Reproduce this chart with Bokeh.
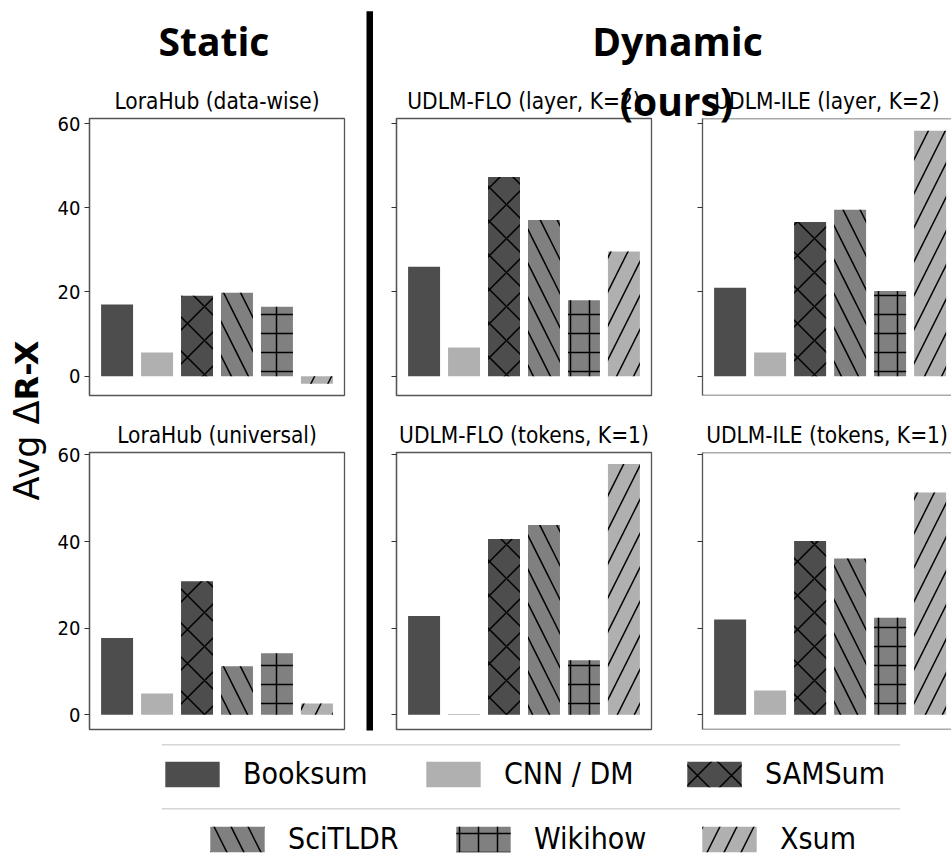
import math
from bokeh.plotting import figure
from bokeh.models import (ColumnDataSource, Range1d, FixedTicker, Span, Legend,
                          LegendItem, GridBox, BoxAnnotation)
from bokeh.embed import file_html
from bokeh.resources import INLINE
from bokeh.core.properties import value

# ---------------- data ----------------
datasets = ["Booksum", "CNN / DM", "SAMSum", "SciTLDR", "Wikihow", "Xsum"]
panel_titles = ["LoraHub (data-wise)", "UDLM-FLO (layer, K=2)", "UDLM-ILE (layer, K=2)",
                "LoraHub (universal)", "UDLM-FLO (tokens, K=1)", "UDLM-ILE (tokens, K=1)"]
lorahub_datawise = [17.0, 5.6, 19.1, 19.8, 16.5, -1.8]
udlm_flo_layer = [26.0, 6.8, 47.3, 37.1, 18.0, 29.6]
udlm_ile_layer = [21.0, 5.6, 36.6, 39.5, 20.2, 58.3]
lorahub_universal = [17.7, 4.9, 30.8, 11.2, 14.2, 2.6]
udlm_flo_tokens = [22.8, 0.2, 40.6, 43.8, 12.6, 57.9]
udlm_ile_tokens = [22.0, 5.6, 40.1, 36.1, 22.4, 51.3]
y_ticks = [0, 20, 40, 60]
group_headers = ["Static", "Dynamic", "(ours)"]
y_label_regular = "Avg Δ"
y_label_bold = "R-X"

# ---------------- styles ----------------
bar_colors = ["#4d4d4d", "#b0b0b0", "#4d4d4d", "#808080", "#808080", "#b0b0b0"]
bar_hatches = [" ", " ", "x", "\\", "+", "/"]
hatch_scales = [12, 12, 34, 34, 19, 34]
FONT_C = "'DejaVu Sans Condensed', 'DejaVu Sans', sans-serif"
FRAME_COLOR = "#555555"

W_TOTAL, H_TOTAL = 951, 858


def no_align(p):
    if "frame_align" in p.properties():
        p.frame_align = False
    return p


def make_panel(vals, title, width, height, borders, x_end, y_rng, show_labels, full_frame):
    left, right, top, bottom = borders
    src = ColumnDataSource(dict(x=list(range(len(datasets))), top=vals, dataset=datasets,
                                color=bar_colors, hatch=bar_hatches, hscale=hatch_scales))
    p = figure(width=width, height=height,
               x_range=Range1d(-0.69, x_end), y_range=Range1d(*y_rng),
               x_axis_location=None, toolbar_location=None, output_backend="svg",
               min_border_left=left, min_border_right=right,
               min_border_top=top, min_border_bottom=bottom,
               background_fill_color="white", border_fill_color="white", title=title)
    no_align(p)
    p.vbar(x="x", top="top", bottom=0, width=0.8, source=src, fill_color="color",
           line_color=None, hatch_pattern="hatch", hatch_scale="hscale",
           hatch_color="black", hatch_weight=1.5)
    p.grid.visible = False
    p.title.align = "center"
    p.title.text_font = FONT_C
    p.title.text_font_size = "22.5px"
    p.title.text_font_style = "normal"
    p.title.text_color = "black"
    if "standoff" in p.title.properties():
        p.title.standoff = 9
    ax = p.yaxis[0]
    ax.ticker = FixedTicker(ticks=y_ticks)
    ax.minor_tick_line_color = None
    ax.major_tick_in = 0
    ax.major_tick_out = 5
    ax.major_tick_line_color = "#333333"
    ax.major_tick_line_width = 1.2
    ax.axis_line_color = FRAME_COLOR
    ax.axis_line_width = 1.3
    ax.major_label_standoff = 4
    if show_labels:
        ax.major_label_text_font = FONT_C
        ax.major_label_text_font_size = "20px"
        ax.major_label_text_color = "black"
    else:
        ax.major_label_text_font_size = "0px"
        ax.major_label_text_color = None
    if full_frame:
        p.outline_line_color = FRAME_COLOR
        p.outline_line_width = 1.3
    else:
        p.outline_line_color = None
        for loc in y_rng:
            p.add_layout(Span(location=loc, dimension="width",
                              line_color=FRAME_COLOR, line_width=1.3))
    return p


top_rng = (-4.6, 61.2)
bot_rng = (-3.4, 60.55)
col_w = [370, 308, 273]
col_borders = [(89, 26), (26, 27), (24, 0)]
x_ends = [5.69, 5.69, 5.535]
row_h = [408, 330]
row_borders = [(118, 13), (44, 9)]
rows_vals = [[lorahub_datawise, udlm_flo_layer, udlm_ile_layer],
             [lorahub_universal, udlm_flo_tokens, udlm_ile_tokens]]
rngs = [top_rng, bot_rng]

children = []
for r in range(2):
    for c in range(3):
        p = make_panel(rows_vals[r][c], panel_titles[r * 3 + c], col_w[c], row_h[r],
                       (col_borders[c][0], col_borders[c][1], row_borders[r][0], row_borders[r][1]),
                       x_ends[c], rngs[r], show_labels=(c == 0), full_frame=(c != 2))
        children.append((p, r, c))

# ---------------- legend ----------------
LEG_H = H_TOTAL - sum(row_h)
leg_fig = figure(width=W_TOTAL, height=LEG_H, x_range=Range1d(0, 1), y_range=Range1d(0, LEG_H),
                 x_axis_location=None, y_axis_location=None, toolbar_location=None,
                 output_backend="svg", min_border_left=161, min_border_right=51,
                 min_border_top=0, min_border_bottom=0, outline_line_color=None,
                 background_fill_color=None, border_fill_color=None)
no_align(leg_fig)
leg_fig.grid.visible = False
leg_src = ColumnDataSource(dict(x=list(range(len(datasets))), top=lorahub_datawise,
                                color=bar_colors, hatch=bar_hatches, hscale=hatch_scales))
key_r = leg_fig.vbar(x="x", top="top", width=0.8, source=leg_src, fill_color="color",
                     line_color=None, hatch_pattern="hatch", hatch_scale="hscale",
                     hatch_color="black", hatch_weight=1.5, visible=False)
for loc in (H_TOTAL - 744.3, H_TOTAL - 808.3):
    leg_fig.add_layout(Span(location=loc, dimension="width", line_color="#d6d6d6", line_width=1.5))
legend_rows = [(range(0, 3), (-3, 67), 26), (range(3, 6), (42, 2), 11)]
for idxs, loc, spacing in legend_rows:
    items = [LegendItem(label=datasets[i], renderers=[key_r], index=i) for i in idxs]
    lg = Legend(items=items, location=loc, orientation="horizontal", padding=0, margin=0,
                spacing=spacing, glyph_width=68, glyph_height=32, label_standoff=17,
                label_width=150, label_text_font=FONT_C, label_text_font_size="30px",
                label_text_color="black", border_line_color=None, background_fill_alpha=0)
    leg_fig.add_layout(lg)
children.append((leg_fig, 2, 0, 1, 3))

# ---------------- overlay (headers, divider, y label) ----------------
ov = figure(width=W_TOTAL, height=H_TOTAL, x_range=Range1d(0, W_TOTAL), y_range=Range1d(0, H_TOTAL),
            x_axis_location=None, y_axis_location=None, toolbar_location=None,
            output_backend="svg", min_border=0, outline_line_color=None,
            background_fill_color=None, border_fill_color=None)
no_align(ov)
ov.grid.visible = False
hdr = dict(text_font=value("Open Sans"), text_font_style="bold", text_font_size="39px",
           text_align="center", text_baseline="alphabetic", text_color="black")
ov.text(x=[213.5, 677], y=[H_TOTAL - 40, H_TOTAL - 40], text=group_headers[:2], **hdr)
ov.text(x=[676], y=[H_TOTAL - 99.5], text=[group_headers[2]], **hdr)
ov.add_layout(BoxAnnotation(left=366, right=372.5, bottom=H_TOTAL - 730, top=H_TOTAL - 10.7,
                            fill_color="black", fill_alpha=1.0, line_color=None))
ov.text(x=[26], y=[H_TOTAL - 400], text=[y_label_regular], angle=math.pi / 2,
        text_align="right", text_baseline="alphabetic", text_font=value("DejaVu Sans"),
        text_font_size="35px", text_color="black")
ov.text(x=[26.5], y=[H_TOTAL - 400], text=[y_label_bold], angle=math.pi / 2,
        text_align="left", text_baseline="alphabetic", text_font=value("DejaVu Sans"),
        text_font_style="bold", text_font_size="32px", text_color="black")
children.append((ov, 0, 0, 3, 3))

grid = GridBox(children=children)
open("out.html", "w").write(file_html(grid, INLINE, title="Avg ΔR-X"))
